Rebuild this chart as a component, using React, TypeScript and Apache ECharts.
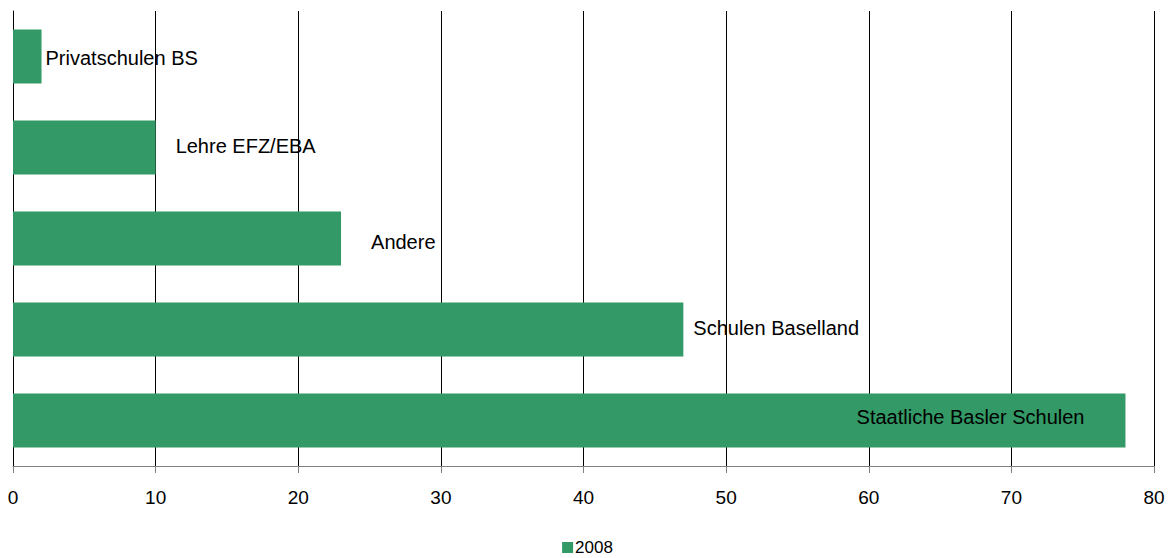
import React, { useEffect, useRef } from "react";
import * as echarts from "echarts";

const categories = [
  "Privatschulen BS",
  "Lehre EFZ/EBA",
  "Andere",
  "Schulen Baselland",
  "Staatliche Basler Schulen",
];
const values2008 = [2, 10, 23, 47, 78];
const seriesName = "2008";
const xTicks = { min: 0, max: 80, interval: 10 };

// label placement per category (styling only)
const labelPlacement = [
  { position: "right", distance: 4, offset: [0, 1] },
  { position: "right", distance: 20, offset: [0, -2] },
  { position: "right", distance: 30, offset: [0, 3] },
  { position: "right", distance: 10, offset: [0, -2] },
  { position: "insideRight", distance: 41, offset: [0, -4] },
];

export default function App() {
  const ref = useRef<HTMLDivElement>(null);
  useEffect(() => {
    document.body.style.margin = "0";
    const chart = echarts.init(ref.current!, null, { renderer: "svg" });
    const font = "'Liberation Sans', Arial, sans-serif";
    chart.setOption({
      animation: false,
      backgroundColor: "#ffffff",
      textStyle: { fontFamily: font },
      grid: { left: 13, right: 21, top: 11, bottom: 92, containLabel: false },
      legend: {
        data: [seriesName],
        top: 539,
        left: "center",
        itemWidth: 11,
        itemHeight: 11,
        itemGap: 4,
        padding: 0,
        icon: "rect",
        textStyle: {
          fontSize: 17,
          lineHeight: 17,
          color: "#000",
          fontFamily: font,
          padding: [0, 0, 0, -3],
        },
      },
      xAxis: {
        type: "value",
        min: xTicks.min,
        max: xTicks.max,
        interval: xTicks.interval,
        axisLine: { show: true, lineStyle: { color: "#808080", width: 1 } },
        axisTick: { show: true, length: 7, lineStyle: { color: "#808080" } },
        axisLabel: { fontSize: 19, color: "#000", margin: 22, fontFamily: font },
        splitLine: { show: true, lineStyle: { color: "#000", width: 1 } },
      },
      yAxis: {
        type: "category",
        data: categories,
        inverse: true,
        axisLine: { show: true, lineStyle: { color: "#000", width: 1 } },
        axisTick: { show: false },
        axisLabel: { show: false },
        splitLine: { show: false },
      },
      series: [
        {
          name: seriesName,
          type: "bar",
          barWidth: 54,
          itemStyle: { color: "#339966" },
          data: values2008.map((v, i) => ({
            value: v,
            label: {
              show: true,
              formatter: categories[i],
              position: labelPlacement[i].position,
              distance: labelPlacement[i].distance,
              offset: labelPlacement[i].offset,
              fontSize: 20,
              color: "#000",
              fontFamily: font,
            },
          })),
        },
      ],
    });
    return () => chart.dispose();
  }, []);
  return <div ref={ref} style={{ width: 1175, height: 558 }} />;
}
